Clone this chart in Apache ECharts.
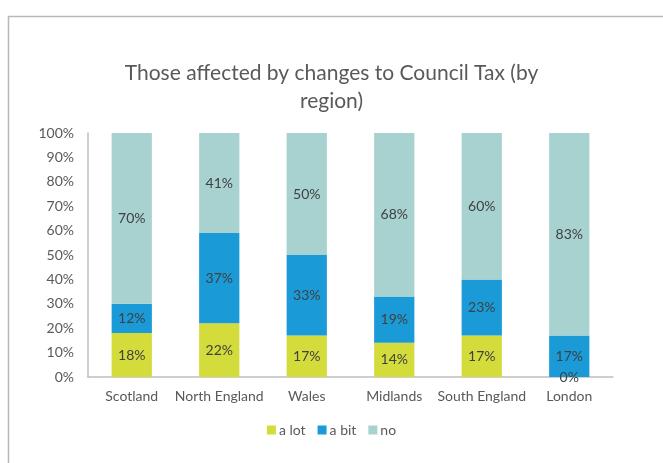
<!DOCTYPE html>
<html>
<head>
<meta charset="utf-8">
<script src="https://cdn.jsdelivr.net/npm/echarts@6/dist/echarts.min.js"></script>
<style>
  html, body { margin: 0; padding: 0; background: #fff; }
  #chart { width: 663px; height: 463px; }
</style>
</head>
<body>
<div id="chart"></div>
<script>
// Regions and the share of respondents (%) in each response group
const regions = ['Scotland', 'North England', 'Wales', 'Midlands', 'South England', 'London'];
const aLot = [18, 22, 17, 14, 17, 0];
const aBit = [12, 37, 33, 19, 23, 17];
const no = [70, 41, 50, 68, 60, 83];
const yTicks = [0, 10, 20, 30, 40, 50, 60, 70, 80, 90, 100];

const FONT = 'Lato, "Open Sans", sans-serif';
const labelStyle = {
  show: true,
  position: 'inside',
  color: '#404040',
  fontFamily: FONT,
  fontSize: 14,
  formatter: p => p.value + '%'
};

function barSeries(name, data, color) {
  return {
    name,
    type: 'bar',
    stack: 'total',
    data,
    barWidth: '46%',
    itemStyle: { color },
    label: labelStyle,
    emphasis: { disabled: true }
  };
}

const chart = echarts.init(document.getElementById('chart'), null, { renderer: 'canvas' });
chart.setOption({
  animation: false,
  backgroundColor: '#fff',
  graphic: [{
    type: 'rect',
    shape: { x: 8.5, y: 16.5, width: 700, height: 500 },
    style: { fill: 'none', stroke: '#b8b8b8', lineWidth: 1.5 },
    silent: true
  }],
  title: {
    text: 'Those affected by changes to Council Tax (by\nregion)',
    left: 'center',
    top: 54,
    textStyle: {
      fontFamily: FONT,
      fontWeight: 'normal',
      fontSize: 21,
      color: '#595959',
      lineHeight: 28
    }
  },
  legend: {
    bottom: 21,
    left: 'center',
    itemWidth: 9,
    itemHeight: 9,
    itemGap: 12,
    icon: 'rect',
    textStyle: { fontFamily: FONT, fontSize: 14, color: '#595959', padding: [0, 0, 0, -2] },
    data: ['a lot', 'a bit', 'no']
  },
  grid: { left: 88, top: 133, width: 525, height: 244, containLabel: false },
  xAxis: {
    type: 'category',
    data: regions,
    axisLine: { lineStyle: { color: '#bfbfbf', width: 1.5 } },
    axisTick: { show: false },
    axisLabel: { interval: 0, color: '#595959', fontFamily: FONT, fontSize: 14, margin: 12 }
  },
  yAxis: {
    type: 'value',
    min: yTicks[0],
    max: yTicks[yTicks.length - 1],
    interval: yTicks[1] - yTicks[0],
    axisLine: { show: true, lineStyle: { color: '#bfbfbf', width: 1.5 } },
    axisTick: { show: false },
    splitLine: { show: false },
    axisLabel: { color: '#595959', fontFamily: FONT, fontSize: 14, margin: 14, formatter: v => v + '%' }
  },
  series: [
    barSeries('a lot', aLot, '#d3dc3a'),
    barSeries('a bit', aBit, '#1a9bd7'),
    barSeries('no', no, '#a7d2d0')
  ]
});
</script>
</body>
</html>
